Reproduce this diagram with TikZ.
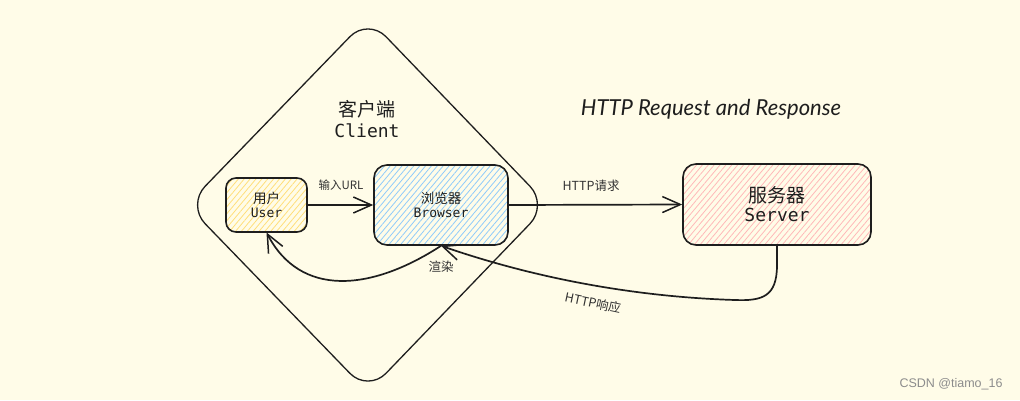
\documentclass[tikz,border=0pt]{standalone}
\usepackage{fontspec}
\setmainfont{Noto Sans CJK SC}
\setmonofont{DejaVu Sans Mono}
\newfontfamily\cjk{Noto Sans CJK SC}
\newfontfamily\handfont{Lato}
\newfontfamily\wmfont{Liberation Sans}
\usetikzlibrary{arrows.meta,patterns.meta}
\definecolor{bgc}{HTML}{FFFCE8}
\definecolor{ink}{HTML}{1E1E1E}
\definecolor{lbl}{HTML}{333333}
\definecolor{hy}{HTML}{FFDF7A}
\definecolor{hb}{HTML}{8FCBFA}
\definecolor{hr}{HTML}{FFB8B8}
\tikzset{
  box/.style={draw=ink, line width=1.6pt, rounded corners=11pt, align=center, text=ink, inner sep=0pt},
  hatch/.style={pattern={Lines[angle=50,distance=4.5pt,line width=0.8pt]}, pattern color=#1},
  conn/.style={draw=ink, line width=1.7pt, -{Straight Barb[length=18pt,width=16pt,line width=1.5pt]}},
  elabel/.style={text=lbl, font=\cjk\fontsize{12.5}{14}\selectfont, inner sep=1pt},
}
\begin{document}
\begin{tikzpicture}[x=1pt,y=-1pt]
\fill[bgc] (0,0) rectangle (1020,400);
\useasboundingbox (0,0) rectangle (1020,400);
% client diamond
\draw[ink, line width=1.3pt, rounded corners=26pt] (368,18) -- (548,205) -- (368,392) -- (187,205) -- cycle;
\node[align=center, text=ink, inner sep=0pt] (client) at (367,119)
  {{\cjk\fontsize{19}{23}\selectfont 客户端}\\[4pt]{\ttfamily\fontsize{18}{22}\selectfont Client}};
% title
\node[text=ink, inner sep=0pt, font=\handfont\itshape\fontsize{22}{26}\selectfont] (title) at (711,109) {HTTP Request and Response};
% boxes
\node[box, hatch=hy, minimum width=81pt, minimum height=54pt, rounded corners=10pt] (user) at (266.5,205)
  {{\cjk\fontsize{13.5}{16}\selectfont 用户}\\[2.5pt]{\ttfamily\fontsize{13}{15}\selectfont User}};
\node[box, hatch=hb, minimum width=134pt, minimum height=80pt, rounded corners=13pt] (browser) at (441,205)
  {{\cjk\fontsize{13.5}{16}\selectfont 浏览器}\\[2.5pt]{\ttfamily\fontsize{13}{15}\selectfont Browser}};
\node[box, hatch=hr, minimum width=188pt, minimum height=81pt, rounded corners=13pt] (server) at (777,204.5)
  {{\cjk\fontsize{19}{23}\selectfont 服务器}\\[3pt]{\ttfamily\fontsize{18}{22}\selectfont Server}};
% connectors
\draw[conn] (user.east) -- (browser.west);
\draw[conn] (browser.east) -- (server.west);
\coordinate (bend1) at (777,265);
\coordinate (bend2) at (735,300);
\draw[conn] (server.south) -- (bend1) .. controls (777,297) and (762,301) .. (bend2) .. controls (640,297) and (540,280) .. (browser.south);
\draw[conn] (browser.south) .. controls (370,292) and (300,297) .. (user.south);
% labels
\node[elabel, font=\cjk\fontsize{11.5}{13}\selectfont] (l1) at (341,185) {输入URL};
\node[elabel] (l2) at (591,186) {HTTP请求};
\node[elabel] (l3) at (441,267) {渲染};
\node[elabel, rotate=-12] (l4) at (593,303) {HTTP响应};
% watermark
\node[text=black!45, inner sep=0pt, font=\wmfont\fontsize{12.5}{14}\selectfont] (wm) at (951,384) {CSDN @tiamo\_16};
\end{tikzpicture}
\end{document}
